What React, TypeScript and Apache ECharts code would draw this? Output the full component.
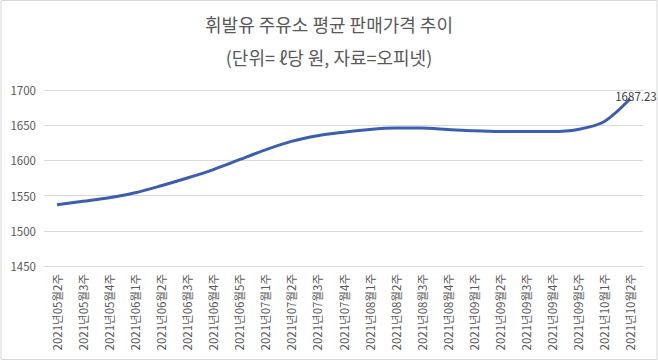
import React, { useEffect, useRef } from "react";
import * as echarts from "echarts";

const categories = [
  "2021년05월2주", "2021년05월3주", "2021년05월4주", "2021년06월1주", "2021년06월2주",
  "2021년06월3주", "2021년06월4주", "2021년06월5주", "2021년07월1주", "2021년07월2주",
  "2021년07월3주", "2021년07월4주", "2021년08월1주", "2021년08월2주", "2021년08월3주",
  "2021년08월4주", "2021년09월1주", "2021년09월2주", "2021년09월3주", "2021년09월4주",
  "2021년09월5주", "2021년10월1주", "2021년10월2주",
];
const prices = [
  1537, 1542, 1547, 1554, 1564, 1575, 1587, 1601, 1615, 1627,
  1635, 1640, 1644, 1646, 1646, 1644, 1642, 1641, 1641, 1641,
  1644, 1655, 1687.23,
];
const yTicks = { min: 1450, max: 1700, interval: 50 };
const titleText = "휘발유 주유소 평균 판매가격 추이";
const subtitleText = "(단위= ℓ당 원, 자료=오피넷)";

export default function App() {
  const ref = useRef<HTMLDivElement>(null);
  useEffect(() => {
    if (!ref.current) return;
    const chart = echarts.init(ref.current, null, { renderer: "svg" });
    const font = "'Noto Sans CJK KR', 'Malgun Gothic', sans-serif";
    const last = prices.length - 1;
    chart.setOption({
      animation: false,
      backgroundColor: "#ffffff",
      textStyle: { fontFamily: font },
      title: [
        {
          text: titleText,
          left: "center",
          top: 10,
          textStyle: { fontSize: 18, fontWeight: "normal", color: "#595959", fontFamily: font },
        },
        {
          text: subtitleText,
          left: "center",
          top: 43,
          textStyle: { fontSize: 18, fontWeight: "normal", color: "#595959", fontFamily: font },
        },
      ],
      graphic: [
        {
          type: "rect",
          shape: { x: 1, y: 0.5, width: 656, height: 359 },
          style: { fill: "none", stroke: "#d9d9d9", lineWidth: 1 },
          silent: true,
        },
      ],
      grid: { left: 44, right: 15, top: 90, bottom: 94, containLabel: false },
      xAxis: {
        type: "category",
        data: categories,
        boundaryGap: true,
        axisLine: { show: true, lineStyle: { color: "#d9d9d9" } },
        axisTick: { show: false },
        axisLabel: {
          rotate: 90,
          interval: 0,
          fontSize: 11.5,
          color: "#595959",
          fontFamily: font,
          margin: 8,
        },
      },
      yAxis: {
        type: "value",
        min: yTicks.min,
        max: yTicks.max,
        interval: yTicks.interval,
        axisLine: { show: false },
        axisTick: { show: false },
        splitLine: { lineStyle: { color: "#d9d9d9", width: 1 } },
        axisLabel: {
          fontSize: 11.5,
          color: "#595959",
          fontFamily: font,
          margin: 8,
          formatter: (v: number) => String(v),
        },
      },
      series: [
        {
          type: "line",
          data: prices.map((v, i) =>
            i === last
              ? {
                  value: v,
                  label: {
                    show: true,
                    position: "top",
                    offset: [6, 8],
                    formatter: (p: any) => Number(p.value).toFixed(2),
                    fontSize: 11.5,
                    color: "#404040",
                    fontFamily: font,
                  },
                }
              : v
          ),
          smooth: 0.3,
          showSymbol: true,
          symbol: "circle",
          symbolSize: 0,
          lineStyle: { color: "#3b5eaf", width: 3 },
          itemStyle: { color: "#3b5eaf" },
        },
      ],
    });
    return () => chart.dispose();
  }, []);
  return (
    <div
      ref={ref}
      style={{ position: "absolute", left: 0, top: 0, width: 658, height: 360 }}
    />
  );
}
